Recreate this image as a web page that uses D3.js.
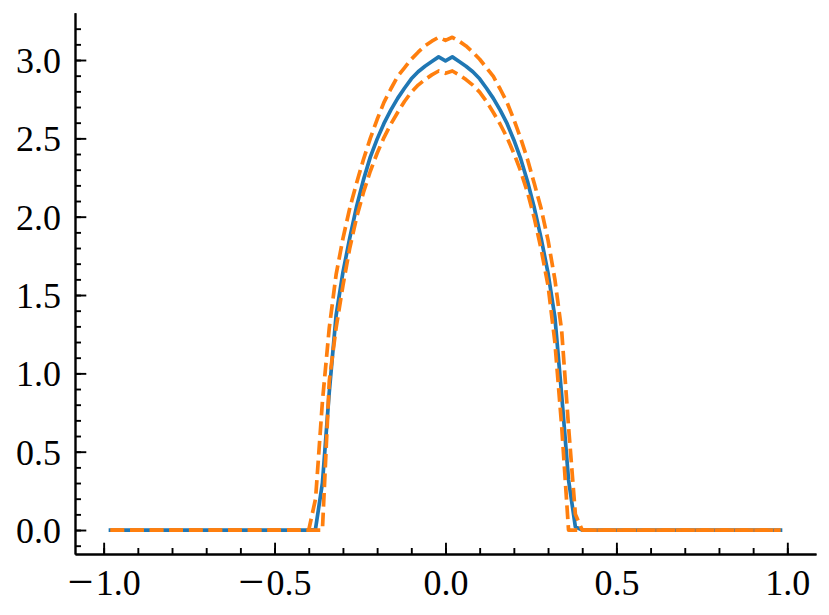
<!DOCTYPE html>
<html>
<head>
<meta charset="utf-8">
<script src="https://cdn.jsdelivr.net/npm/d3@7"></script>
<style>
  html, body { margin: 0; padding: 0; background: #ffffff; }
  svg { display: block; }
</style>
</head>
<body>
<svg id="chart" width="829" height="615"></svg>
<script>
const xValues = [
  -0.98,-0.96,-0.94,-0.92,-0.90,-0.88,-0.86,-0.84,-0.82,-0.80,
  -0.78,-0.76,-0.74,-0.72,-0.70,-0.68,-0.66,-0.64,-0.62,-0.60,
  -0.58,-0.56,-0.54,-0.52,-0.50,-0.48,-0.46,-0.44,-0.42,-0.40,
  -0.38,-0.36,-0.34,-0.32,-0.30,-0.28,-0.26,-0.24,-0.22,-0.20,
  -0.18,-0.16,-0.14,-0.12,-0.10,-0.08,-0.06,-0.04,-0.02,0.00,
  0.02,0.04,0.06,0.08,0.10,0.12,0.14,0.16,0.18,0.20,
  0.22,0.24,0.26,0.28,0.30,0.32,0.34,0.36,0.38,0.40,
  0.42,0.44,0.46,0.48,0.50,0.52,0.54,0.56,0.58,0.60,
  0.62,0.64,0.66,0.68,0.70,0.72,0.74,0.76,0.78,0.80,
  0.82,0.84,0.86,0.88,0.90,0.92,0.94,0.96,0.98
];
const meanValues = [
  0,0,0,0,0,0,0,0,0,0,
  0,0,0,0,0,0,0,0,0,0,
  0,0,0,0,0,0,0,0,0,0,
  0.01,0.30,0.88,1.37,1.645,1.865,2.065,2.235,2.38,2.495,
  2.595,2.68,2.755,2.82,2.88,2.925,2.96,2.99,3.02,2.995,
  3.02,2.99,2.96,2.925,2.88,2.82,2.755,2.68,2.595,2.49,
  2.37,2.225,2.055,1.86,1.64,1.36,0.86,0.32,0.02,0,
  0,0,0,0,0,0,0,0,0,0,
  0,0,0,0,0,0,0,0,0,0,
  0,0,0,0,0,0,0,0,0
];
const upperValues = [
  0,0,0,0,0,0,0,0,0,0,
  0,0,0,0,0,0,0,0,0,0,
  0,0,0,0,0,0,0,0,0,0,
  0.20,0.82,1.29,1.63,1.86,2.055,2.215,2.365,2.50,2.62,
  2.73,2.815,2.895,2.95,3.005,3.05,3.09,3.12,3.145,3.125,
  3.145,3.12,3.09,3.05,3.005,2.95,2.895,2.815,2.73,2.62,
  2.50,2.365,2.21,2.05,1.85,1.60,1.27,0.66,0.10,0,
  0,0,0,0,0,0,0,0,0,0,
  0,0,0,0,0,0,0,0,0,0,
  0,0,0,0,0,0,0,0,0
];
const lowerValues = [
  0,0,0,0,0,0,0,0,0,0,
  0,0,0,0,0,0,0,0,0,0,
  0,0,0,0,0,0,0,0,0,0,
  0,0,0.95,1.29,1.56,1.80,1.995,2.155,2.29,2.405,
  2.505,2.59,2.665,2.735,2.795,2.84,2.875,2.905,2.93,2.915,
  2.93,2.905,2.875,2.84,2.795,2.735,2.665,2.59,2.505,2.405,
  2.29,2.155,1.99,1.79,1.56,1.20,0.66,0,0,0,
  0,0,0,0,0,0,0,0,0,0,
  0,0,0,0,0,0,0,0,0,0,
  0,0,0,0,0,0,0,0,0
];
const xTickValues = [-1.0, -0.5, 0.0, 0.5, 1.0];
const xTickLabels = ["−1.0", "−0.5", "0.0", "0.5", "1.0"];
const xMinorTicks = [-1.0,-0.9,-0.8,-0.7,-0.6,-0.5,-0.4,-0.3,-0.2,-0.1,0.0,0.1,0.2,0.3,0.4,0.5,0.6,0.7,0.8,0.9,1.0];
const yTickValues = [0.0, 0.5, 1.0, 1.5, 2.0, 2.5, 3.0];
const yTickLabels = ["0.0", "0.5", "1.0", "1.5", "2.0", "2.5", "3.0"];
const yMinorTicks = [-0.1,0.0,0.1,0.2,0.3,0.4,0.5,0.6,0.7,0.8,0.9,1.0,1.1,1.2,1.3,1.4,1.5,1.6,1.7,1.8,1.9,2.0,2.1,2.2,2.3,2.4,2.5,2.6,2.7,2.8,2.9,3.0,3.1,3.2];

const svg = d3.select("#chart");
svg.append("rect").attr("width", 829).attr("height", 615).attr("fill", "#ffffff");

const x = d3.scaleLinear().domain([-1.0838, 1.0839]).range([75, 816]);
const y = d3.scaleLinear().domain([-0.153, 3.302]).range([554, 12.7]);

const lw = 3.7;
const axisW = 1.9;
const FONT = "'Liberation Serif', 'DejaVu Serif', serif";

// data lines
const line = d3.line().x((d, i) => x(xValues[i])).y(d => y(d));

svg.append("path").datum(meanValues)
  .attr("d", line).attr("fill", "none")
  .attr("stroke", "#1f77b4").attr("stroke-width", lw)
  .attr("stroke-linecap", "square").attr("stroke-linejoin", "round");

[upperValues, lowerValues].forEach(arr => {
  svg.append("path").datum(arr)
    .attr("d", line).attr("fill", "none")
    .attr("stroke", "#ff7f0e").attr("stroke-width", lw)
    .attr("stroke-dasharray", (3.7 * lw).toFixed(2) + "," + (1.6 * lw).toFixed(2))
    .attr("stroke-linecap", "butt").attr("stroke-linejoin", "round");
});

// minor ticks
const gxMinor = svg.append("g").attr("transform", "translate(0,554)")
  .call(d3.axisBottom(x).tickValues(xMinorTicks).tickSize(-6).tickSizeOuter(0).tickFormat(""));
const gyMinor = svg.append("g").attr("transform", "translate(75,0)")
  .call(d3.axisLeft(y).tickValues(yMinorTicks).tickSize(-6).tickSizeOuter(0).tickFormat(""));

// major ticks + spines
const gx = svg.append("g").attr("transform", "translate(0,554)")
  .call(d3.axisBottom(x).tickValues(xTickValues).tickSize(-11.3).tickSizeOuter(0)
    .tickFormat((d, i) => xTickLabels[i]));
const gy = svg.append("g").attr("transform", "translate(75,0)")
  .call(d3.axisLeft(y).tickValues(yTickValues).tickSize(-11.3).tickSizeOuter(0)
    .tickFormat((d, i) => yTickLabels[i]));

[gxMinor, gyMinor, gx, gy].forEach(g => {
  g.selectAll("line").attr("stroke", "#000").attr("stroke-width", axisW);
  g.select(".domain").attr("stroke", "#000").attr("stroke-width", axisW);
});

gx.selectAll("text")
  .attr("y", 41).attr("dy", null)
  .attr("font-family", FONT).attr("font-size", 36).attr("fill", "#000")
  .attr("text-anchor", "middle")
  .each(function () {
    const t = d3.select(this);
    const s = t.text();
    if (s.startsWith("−")) {
      t.text(null);
      t.append("tspan").text("−").attr("font-size", 46).attr("dy", 2);
      t.append("tspan").attr("dx", 2).attr("dy", -2).text(s.slice(1));
    }
  });

gy.selectAll("text")
  .attr("x", -14).attr("dy", "12.5px")
  .attr("font-family", FONT).attr("font-size", 36).attr("fill", "#000")
  .attr("text-anchor", "end");
</script>
</body>
</html>
